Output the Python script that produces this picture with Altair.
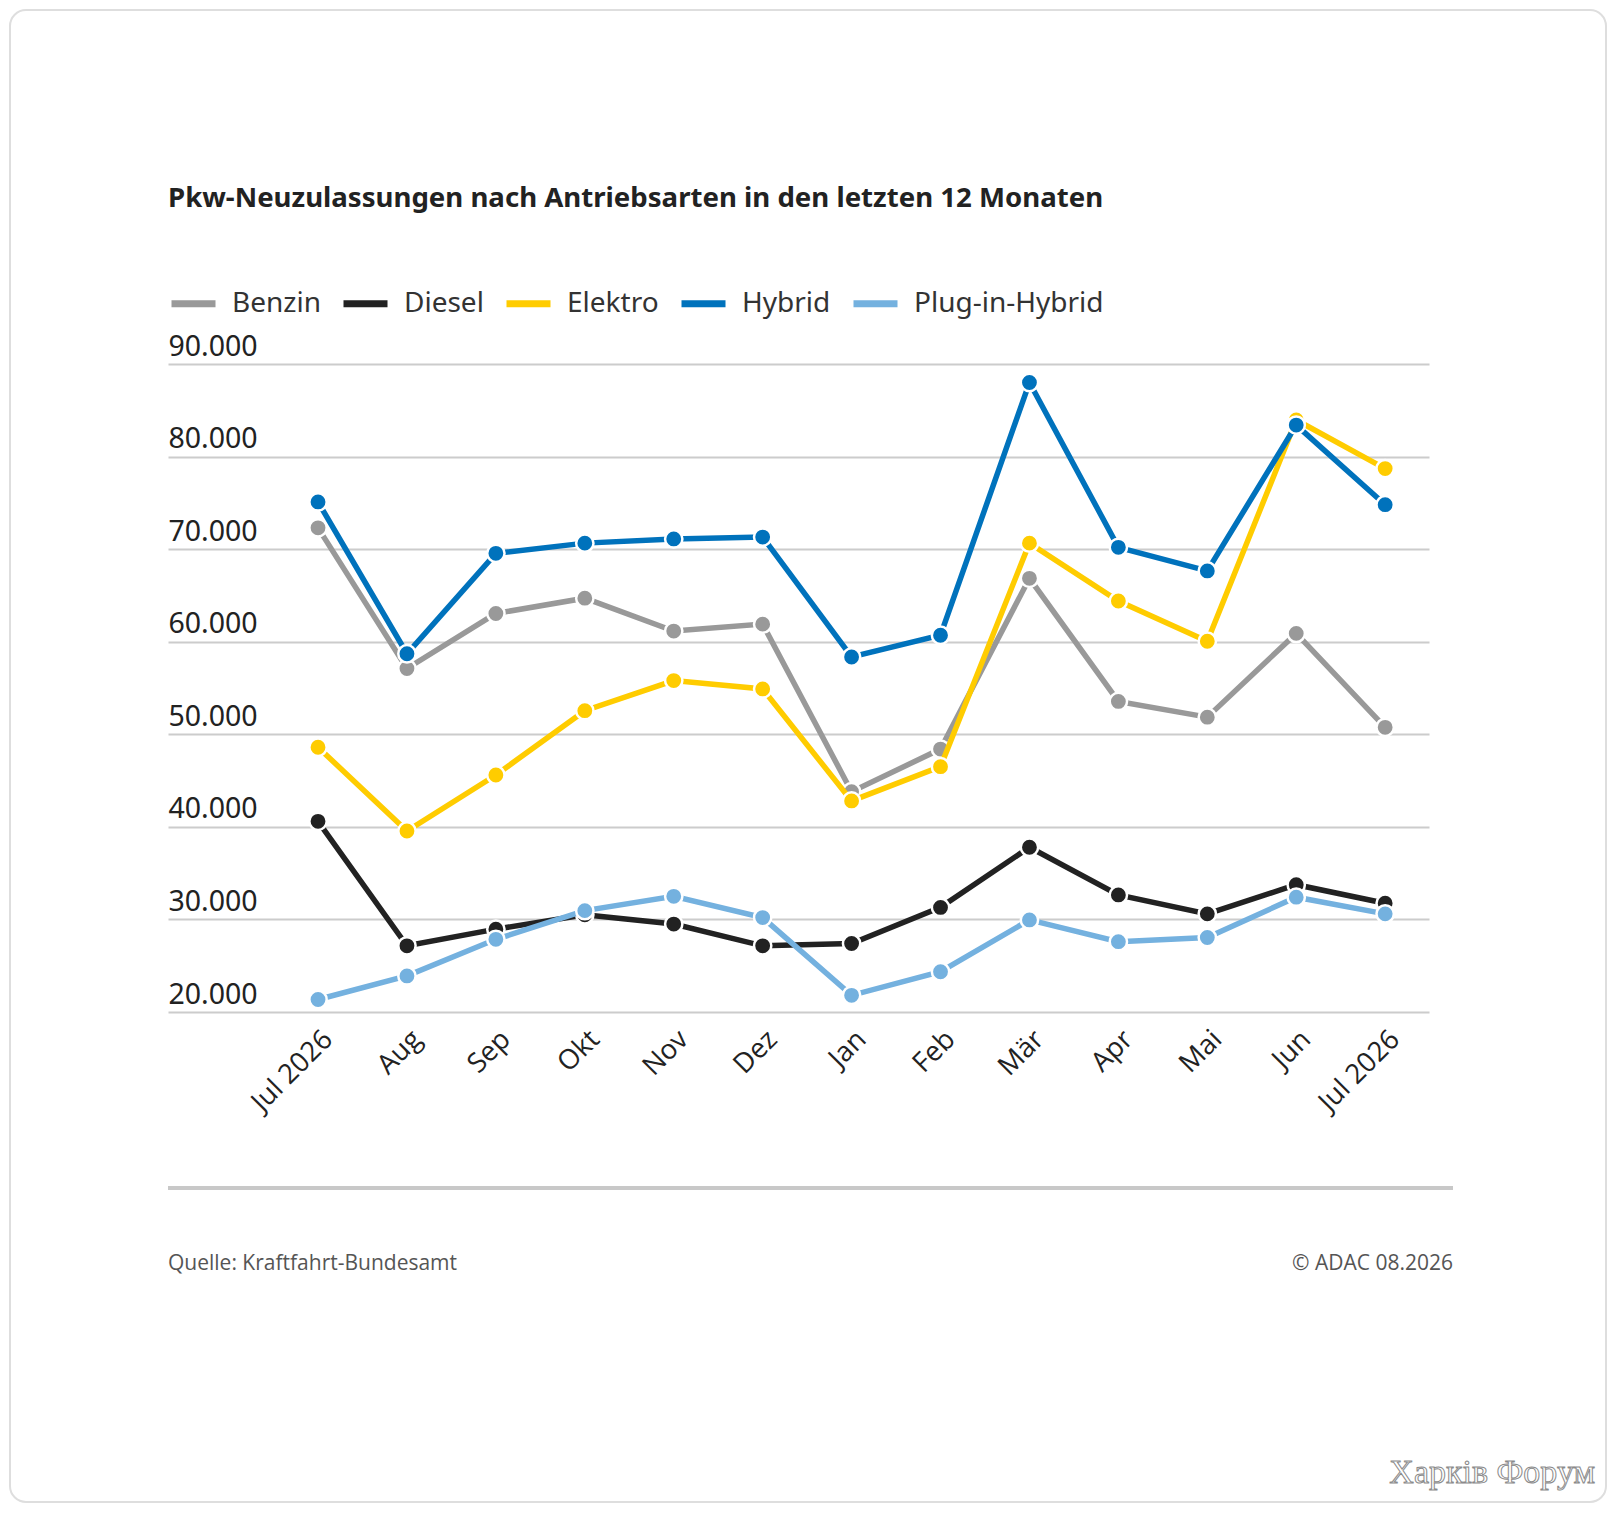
import altair as alt
import pandas as pd

# ---- data ----
months = ["Jul 2026", "Aug", "Sep", "Okt", "Nov", "Dez", "Jan", "Feb",
          "Mär", "Apr", "Mai", "Jun", "Jul 2026"]
series_names = ["Benzin", "Diesel", "Elektro", "Hybrid", "Plug-in-Hybrid"]
series_colors = ["#999999", "#222222", "#ffcc00", "#0072bc", "#74b1df"]

benzin = [72300, 57100, 63050, 64700, 61150, 61900, 43800, 48400, 66850, 53550, 51850, 60900, 50750]
diesel = [40600, 27150, 28950, 30500, 29500, 27150, 27400, 31300, 37800, 32650, 30600, 33750, 31750]
elektro = [48600, 39550, 45600, 52550, 55800, 54900, 42800, 46500, 70650, 64400, 60050, 83950, 78700]
hybrid = [75100, 58700, 69550, 70650, 71100, 71300, 58350, 60700, 88000, 70200, 67650, 83400, 74800]
plugin = [21350, 23900, 27850, 30950, 32500, 30200, 21800, 24350, 29950, 27600, 28050, 32400, 30600]

y_ticks = [20000, 30000, 40000, 50000, 60000, 70000, 80000, 90000]

title_text = ["Pkw-Neuzulassungen nach Antriebsarten in den letzten 12 Monaten"]
footer_left = ["Quelle: Kraftfahrt-Bundesamt"]
footer_right = ["© ADAC 08.2026"]
watermark = ["Харків Форум"]

values_by_series = [benzin, diesel, elektro, hybrid, plugin]
rows = []
for name, vals in zip(series_names, values_by_series):
    for i, v in enumerate(vals):
        rows.append({"series": name, "idx": i, "month": months[i], "value": v})
df = pd.DataFrame(rows)

W, H = 1261, 648

label_expr = "[" + ",".join("'" + m + "'" for m in months) + "][datum.value]"

x_enc = alt.X(
    "idx:Q",
    scale=alt.Scale(domain=[-1.687, 12.493], nice=False, zero=False),
    axis=alt.Axis(
        values=list(range(13)), labelExpr=label_expr, title=None,
        labelAngle=-45, labelAlign="right", labelBaseline="top",
        labelFontSize=27.5, labelFont="Open Sans", labelColor="#222222",
        labelPadding=13, ticks=False, tickSize=0, domain=False, grid=False,
        labelFlush=False, labelOverlap=False,
    ),
)
y_enc = alt.Y(
    "value:Q",
    scale=alt.Scale(domain=[20000, 90000], nice=False, zero=False),
    axis=alt.Axis(
        values=y_ticks, title=None,
        labelExpr="replace(format(datum.value, ','), ',', '.')",
        labelAlign="left", labelBaseline="alphabetic", labelOffset=-9,
        labelPadding=0, labelFontSize=28.5, labelFont="Noto Sans",
        labelColor="#222222", ticks=False, tickSize=0, domain=False,
        grid=True, gridColor="#cccccc", gridWidth=2, labelOverlap=False,
    ),
)

color_enc = alt.Color(
    "series:N",
    scale=alt.Scale(domain=series_names, range=series_colors),
    legend=alt.Legend(
        title=None, orient="none", legendX=0, legendY=-86,
        direction="horizontal", symbolType="stroke", symbolStrokeWidth=7,
        symbolSize=1936, labelFontSize=28, labelFont="Noto Sans",
        labelColor="#333333", labelOffset=13, columnPadding=8,
        symbolOpacity=1, labelLimit=0,
    ),
)

base = alt.Chart(df)

layers = []
# card frame (decoration)
frame = alt.Chart(pd.DataFrame({"k": [0]})).mark_rect(
    fillOpacity=0, stroke="#dedede", strokeWidth=2, cornerRadius=16
).encode(x=alt.value(-158), x2=alt.value(1438), y=alt.value(-354), y2=alt.value(1138))
layers.append(frame)

title_layer = alt.Chart(pd.DataFrame({"t": title_text})).mark_text(
    align="left", baseline="middle", fontSize=27.6, font="Noto Sans",
    fontWeight="bold", color="#222222"
).encode(text="t:N", x=alt.value(0), y=alt.value(-165))
layers.append(title_layer)

for name, col in zip(series_names, series_colors):
    sub = base.transform_filter(alt.datum.series == name)
    layers.append(sub.mark_line(strokeWidth=5.5).encode(x=x_enc, y=y_enc, color=color_enc))
    layers.append(
        sub.mark_circle(size=300, opacity=1, color=col, stroke="white", strokeWidth=2.5)
        .encode(x=x_enc, y=y_enc)
    )

rule = alt.Chart(pd.DataFrame({"k": [0]})).mark_rule(
    color="#c8c8c8", strokeWidth=4
).encode(x=alt.value(0), x2=alt.value(1285), y=alt.value(824))
layers.append(rule)

foot_l = alt.Chart(pd.DataFrame({"t": footer_left})).mark_text(
    align="left", baseline="middle", fontSize=21, font="Open Sans", color="#555555"
).encode(text="t:N", x=alt.value(0), y=alt.value(900))
foot_r = alt.Chart(pd.DataFrame({"t": footer_right})).mark_text(
    align="right", baseline="middle", fontSize=21, font="Open Sans", color="#555555"
).encode(text="t:N", x=alt.value(1285), y=alt.value(900))
wm = alt.Chart(pd.DataFrame({"t": watermark})).mark_text(
    align="right", baseline="alphabetic", fontSize=34, font="Liberation Serif",
    fill="white", stroke="#8a8a8a", strokeWidth=1
).encode(text="t:N", x=alt.value(1427), y=alt.value(1119))
layers += [foot_l, foot_r, wm]

chart = alt.layer(*layers).properties(
    width=W, height=H,
    autosize=alt.AutoSizeParams(type="none"),
    padding={"left": 160, "top": 356, "right": 179, "bottom": 492},
).configure(background="white").configure_view(stroke=None)

chart.save("out.html", embed_options={"renderer": "svg", "actions": False})
